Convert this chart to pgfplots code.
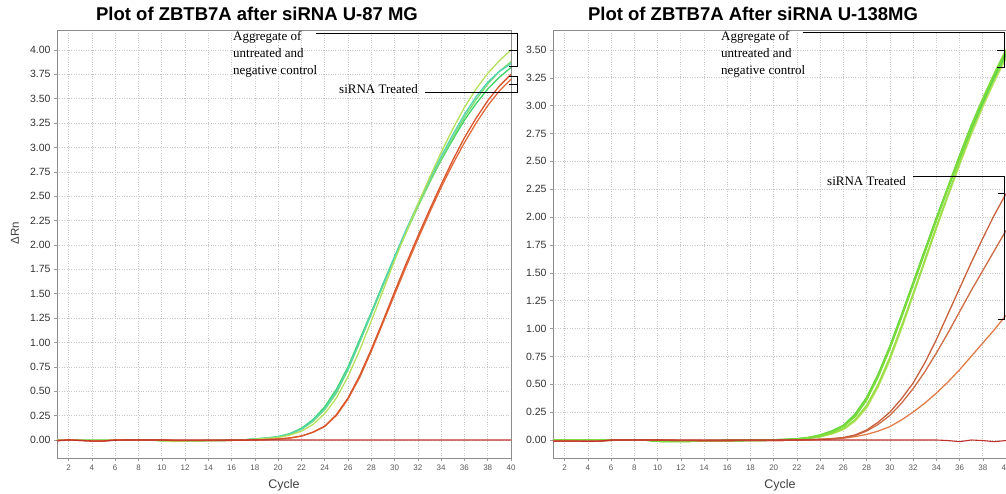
\documentclass[border=0pt]{standalone}
\usepackage{fontspec}
\setmainfont{Liberation Sans}
\newfontfamily\tnr{Liberation Serif}
\usepackage{pgfplots}
\usepackage{pgfplotstable}
\pgfplotsset{compat=1.18}

\pgfplotstableread{
c g1 g2 g3 g4 r1 r2 b
1 0 0 0 0 -0.005 -0.005 -0.01
2 0 0 0 0 0 0 0
3 0 0 0 0 -0.005 -0.005 -0.005
4 0 0 0 0 -0.01 -0.01 -0.012
5 0 0 0 0 -0.01 -0.01 -0.012
6 0 0 0 0 0 0 -0.003
7 0 0 0 0 0 0 0
8 0 0 0 0 0 0 0
9 0 0 0 0 0 0 0
10 -0.01 -0.01 -0.005 -0.005 0 0 0
11 -0.015 -0.01 -0.01 -0.01 -0.005 -0.005 0
12 -0.012 -0.01 -0.01 -0.01 -0.005 -0.005 0
13 -0.01 -0.008 -0.008 -0.008 -0.005 -0.005 0
14 -0.008 -0.006 -0.006 -0.006 -0.006 -0.006 0
15 -0.006 -0.005 -0.005 -0.005 -0.005 -0.005 0
16 -0.004 -0.003 -0.003 -0.003 -0.004 -0.004 0
17 0 0 0 0 -0.003 -0.003 0
18 0.008 0.01 0.012 0.01 0 0 0
19 0.015 0.017 0.02 0.018 0.004 0.004 0
20 0.025 0.03 0.035 0.032 0.01 0.01 0
21 0.05 0.06 0.065 0.062 0.02 0.02 0
22 0.09 0.11 0.12 0.11 0.04 0.04 0
23 0.16 0.19 0.21 0.20 0.08 0.08 0
24 0.27 0.31 0.34 0.32 0.14 0.14 0
25 0.43 0.48 0.52 0.50 0.26 0.25 0
26 0.65 0.72 0.75 0.73 0.43 0.42 0
27 0.92 1.00 1.03 1.01 0.66 0.64 0
28 1.22 1.29 1.31 1.30 0.93 0.91 0
29 1.53 1.58 1.60 1.59 1.22 1.20 0
30 1.84 1.86 1.88 1.88 1.52 1.49 0
31 2.13 2.13 2.14 2.16 1.81 1.78 0
32 2.42 2.39 2.40 2.42 2.09 2.06 0
33 2.69 2.64 2.64 2.67 2.36 2.33 0
34 2.95 2.88 2.87 2.91 2.62 2.59 0
35 3.19 3.10 3.08 3.13 2.87 2.83 0
36 3.41 3.31 3.28 3.34 3.10 3.05 0
37 3.60 3.49 3.45 3.52 3.30 3.25 0
38 3.76 3.65 3.60 3.67 3.48 3.43 0
39 3.89 3.78 3.72 3.78 3.63 3.58 0
40 4.00 3.88 3.82 3.86 3.75 3.70 0
}\leftdata

\pgfplotstableread{
c g1 g2 g3 g4 g5 ra rb rc b
1 0 0 0 0 0 -0.01 -0.01 -0.01 -0.01
2 0 0 0 0 0 -0.01 -0.01 -0.01 -0.01
3 0 0 0 0 0 -0.01 -0.01 -0.01 -0.01
4 0 0 0 0 0 -0.012 -0.012 -0.012 -0.012
5 0 0 0 0 0 -0.01 -0.01 -0.01 -0.01
6 0 0 0 0 0 -0.003 -0.003 -0.003 0
7 0 0 0 0 0 0 0 0 0
8 0 0 0 0 0 0 0 0 0
9 0 0 0 0 0 0 0 0 0
10 -0.01 -0.01 -0.01 -0.01 -0.01 0 0 0 0
11 -0.012 -0.012 -0.012 -0.012 -0.012 -0.003 -0.003 -0.003 0
12 -0.012 -0.012 -0.012 -0.012 -0.012 -0.004 -0.004 -0.004 0
13 -0.01 -0.01 -0.01 -0.01 -0.01 -0.005 -0.005 -0.005 0
14 -0.008 -0.008 -0.008 -0.008 -0.008 -0.006 -0.006 -0.006 0
15 -0.006 -0.006 -0.006 -0.006 -0.006 -0.006 -0.006 -0.006 0
16 -0.005 -0.005 -0.005 -0.005 -0.005 -0.006 -0.006 -0.006 0
17 -0.004 -0.004 -0.004 -0.004 -0.004 -0.005 -0.005 -0.005 0
18 -0.003 -0.003 -0.003 -0.003 -0.003 -0.005 -0.005 -0.005 0
19 -0.002 -0.002 -0.002 -0.002 -0.002 -0.004 -0.004 -0.004 0
20 0 0 0 0 0 -0.004 -0.004 -0.004 0
21 0.003 0.004 0.002 0.003 0.002 -0.003 -0.003 -0.003 0
22 0.008 0.01 0.006 0.009 0.006 0 0 0 0
23 0.02 0.022 0.016 0.02 0.015 0.003 0.003 0.002 0
24 0.04 0.045 0.03 0.04 0.03 0.006 0.006 0.005 0
25 0.07 0.08 0.06 0.075 0.055 0.012 0.011 0.01 0
26 0.12 0.13 0.10 0.125 0.095 0.022 0.02 0.016 0
27 0.21 0.23 0.18 0.22 0.17 0.045 0.04 0.03 0
28 0.36 0.38 0.31 0.37 0.29 0.09 0.08 0.05 0
29 0.57 0.59 0.50 0.58 0.48 0.16 0.14 0.08 0
30 0.82 0.84 0.74 0.83 0.72 0.25 0.22 0.12 0
31 1.10 1.12 1.02 1.11 1.00 0.37 0.33 0.18 0
32 1.39 1.41 1.31 1.40 1.30 0.51 0.46 0.25 0
33 1.68 1.70 1.61 1.69 1.60 0.69 0.61 0.33 0
34 1.97 1.99 1.91 1.98 1.90 0.90 0.78 0.42 0
35 2.26 2.27 2.20 2.26 2.19 1.13 0.96 0.52 -0.005
36 2.54 2.55 2.49 2.53 2.47 1.36 1.15 0.63 -0.015
37 2.81 2.82 2.77 2.79 2.74 1.59 1.34 0.75 0
38 3.06 3.06 3.02 3.03 2.99 1.81 1.52 0.87 -0.005
39 3.29 3.28 3.25 3.26 3.22 2.02 1.70 0.99 -0.015
40 3.50 3.48 3.45 3.46 3.43 2.21 1.88 1.12 -0.005
}\rightdata

\definecolor{cYG}{HTML}{B4E05A}
\definecolor{cLG}{HTML}{7EDC6E}
\definecolor{cBG}{HTML}{3FD466}
\definecolor{cTL}{HTML}{52D6B2}
\definecolor{cR1}{HTML}{D9552A}
\definecolor{cR2}{HTML}{E2693A}
\definecolor{cBase}{HTML}{C0302A}
\definecolor{cG1}{HTML}{7DDC3A}
\definecolor{cG2}{HTML}{62D640}
\definecolor{cG3}{HTML}{9AE048}
\definecolor{cG4}{HTML}{56D850}
\definecolor{cG5}{HTML}{B8E05A}
\definecolor{cRA}{HTML}{C8623E}
\definecolor{cRB}{HTML}{CE6C46}
\definecolor{cRC}{HTML}{E07C4A}

\pgfplotsset{
 myax/.style={
  scale only axis, width=454pt, height=428pt,
  xmin=1, xmax=40, xtick={2,4,...,40},
  grid=major, major grid style={dotted, black!22, line width=0.6pt},
  axis line style={black!45, line width=0.7pt},
  tick style={black!40, line width=0.5pt},
  major tick length=3pt, tick align=outside, tick pos=left,
  /pgf/number format/assume math mode=true,
  xticklabel style={font=\fontsize{8}{9}\selectfont, text=black!65},
  yticklabel style={font=\fontsize{10.5}{12}\selectfont, text=black!80,
    /pgf/number format/fixed, /pgf/number format/fixed zerofill,
    /pgf/number format/precision=2},
  every axis plot/.append style={line width=1.3pt, line join=round},
  clip=false,
 }
}

\begin{document}
\begin{tikzpicture}
\path[use as bounding box] (0,0) rectangle (1006pt,494pt);

\begin{axis}[myax, at={(57pt,36pt)}, anchor=south west,
  ymin=-0.185, ymax=4.205,
  ytick={0,0.25,0.5,0.75,1,1.25,1.5,1.75,2,2.25,2.5,2.75,3,3.25,3.5,3.75,4}]
\addplot[cBG] table[x=c,y=g3]{\leftdata};
\addplot[cLG] table[x=c,y=g2]{\leftdata};
\addplot[cTL] table[x=c,y=g4]{\leftdata};
\addplot[cYG] table[x=c,y=g1]{\leftdata};
\addplot[cR2] table[x=c,y=r2]{\leftdata};
\addplot[cR1] table[x=c,y=r1]{\leftdata};
\addplot[cBase, line width=1.1pt] table[x=c,y=b]{\leftdata};
% annotations
\draw[black, line width=0.8pt] (axis cs:23.25,4.17) -- (axis cs:40.52,4.17) -- (axis cs:40.52,3.83) -- (axis cs:39.83,3.83);
\draw[black, line width=0.8pt] (axis cs:39.83,4.00) -- (axis cs:40.52,4.00);
\draw[black, line width=0.8pt] (axis cs:32.61,3.569) -- (axis cs:40.52,3.569) -- (axis cs:40.52,3.733) -- (axis cs:39.83,3.733);
\draw[black, line width=0.8pt] (axis cs:39.83,3.651) -- (axis cs:40.52,3.651);
\end{axis}

\begin{axis}[myax, at={(553pt,36pt)}, anchor=south west, width=453pt,
  ymin=-0.1615, ymax=3.679,
  ytick={0,0.25,0.5,0.75,1,1.25,1.5,1.75,2,2.25,2.5,2.75,3,3.25,3.5}]
\addplot[cG5, line width=1.7pt] table[x=c,y=g5]{\rightdata};
\addplot[cG3, line width=1.7pt] table[x=c,y=g3]{\rightdata};
\addplot[cG4, line width=1.7pt] table[x=c,y=g4]{\rightdata};
\addplot[cG2, line width=1.7pt] table[x=c,y=g2]{\rightdata};
\addplot[cG1, line width=1.7pt] table[x=c,y=g1]{\rightdata};
\addplot[cRC] table[x=c,y=rc]{\rightdata};
\addplot[cRB] table[x=c,y=rb]{\rightdata};
\addplot[cRA] table[x=c,y=ra]{\rightdata};
\addplot[cBase, line width=1.1pt] table[x=c,y=b]{\rightdata};
\draw[black, line width=0.8pt] (axis cs:22.52,3.653) -- (axis cs:39.9,3.653) -- (axis cs:39.9,3.347) -- (axis cs:39.2,3.347);
\draw[black, line width=0.8pt] (axis cs:39.2,3.50) -- (axis cs:39.9,3.50);
\draw[black, line width=0.8pt] (axis cs:31.99,2.369) -- (axis cs:39.9,2.369) -- (axis cs:39.9,1.086) -- (axis cs:39.3,1.086);
\draw[black, line width=0.8pt] (axis cs:39.3,2.217) -- (axis cs:39.9,2.217);
\end{axis}

% titles and labels
\node[font=\bfseries\fontsize{18.5}{21}\selectfont] at (257pt,480pt) {Plot of ZBTB7A after siRNA U-87 MG};
\node[font=\bfseries\fontsize{18.5}{21}\selectfont] at (753pt,480pt) {Plot of ZBTB7A After siRNA U-138MG};
\node[font=\fontsize{12.5}{14}\selectfont, text=black!75, anchor=base] at (284pt,5pt) {Cycle};
\node[font=\fontsize{12.5}{14}\selectfont, text=black!75, anchor=base] at (780pt,5pt) {Cycle};
\node[font=\fontsize{11.5}{13}\selectfont, text=black!75, rotate=90] at (15pt,261pt) {ΔRn};

% annotation texts
\begin{scope}[every node/.style={font=\tnr\fontsize{13}{16}\selectfont, anchor=base west, inner sep=0pt}]
\node at (233pt,453pt) {Aggregate of};
\node at (233pt,436pt) {untreated and};
\node at (233pt,419pt) {negative control};
\node at (721pt,453pt) {Aggregate of};
\node at (721pt,436pt) {untreated and};
\node at (721pt,419pt) {negative control};
\node[anchor=base east] at (418pt,400pt) {siRNA Treated};
\node[anchor=base east] at (906pt,308pt) {siRNA Treated};
\end{scope}
\end{tikzpicture}
\end{document}
